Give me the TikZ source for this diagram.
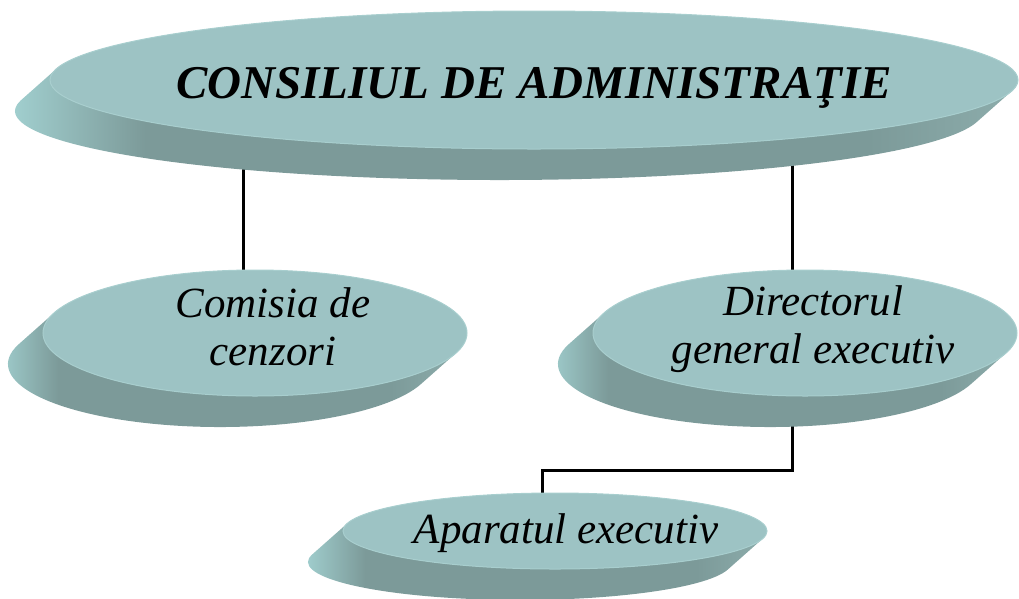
\documentclass[tikz,border=0pt]{standalone}
\usepackage{fontspec}
\setmainfont{Liberation Serif}
\usepackage{tikz}
\usetikzlibrary{shapes.geometric, backgrounds}
\definecolor{colorFace}{RGB}{157,195,196}
\definecolor{colorRim}{RGB}{168,206,206}
\definecolor{colorSideLight}{RGB}{170,220,220}
\definecolor{colorSideDark}{RGB}{124,154,153}
\definecolor{colorSideMid}{RGB}{140,172,171}
\pgfdeclarehorizontalshading{discsideshade}{100bp}{color(0bp)=(colorSideLight); color(25bp)=(colorSideLight); color(33bp)=(colorSideDark); color(68bp)=(colorSideDark); color(75bp)=(colorSideMid); color(100bp)=(colorSideMid)}
\tikzset{
  discface/.style={ellipse, fill=colorFace, draw=colorRim, line width=1pt, inner sep=0pt},
  discside/.style={shade, shading=discsideshade},
  link/.style={line width=3pt, black},
  disctext/.style={font=\fontsize{43}{48}\selectfont\itshape, align=center, anchor=base},
}
% disc: name, x, y, x radius, y radius, angle where the side starts
\newcommand{\disc}[6]{%
  \path[discside] (#2,#3) ++(#6:#4 and #5) -- ++(-35,-31)
    arc[start angle=#6, end angle=#6+180, x radius=#4, y radius=#5] -- ++(35,31)
    arc[start angle=#6+180, end angle=#6, x radius=#4, y radius=#5] -- cycle;
  \node[discface, minimum width=2*#4pt, minimum height=2*#5pt] (#1) at (#2,#3) {};
}

\begin{document}
\begin{tikzpicture}[x=1pt, y=1pt]
\useasboundingbox (0,0) rectangle (1019,-598);
\disc{cda}{534}{-80}{484}{69}{171.3}
\disc{cenz}{255}{-333}{212}{63}{162}
\disc{dir}{805}{-333}{212}{63}{162}
\disc{apar}{555}{-531}{212}{38}{168.9}
\node[disctext, font=\fontsize{47}{50}\selectfont\bfseries\itshape] (cdaText) at (534,-98) {CONSILIUL DE ADMINISTRAŢIE};
\node[disctext] (cenzText) at (273,-365) {Comisia de\\cenzori};
\node[disctext] (dirText) at (813,-363) {Directorul\\general executiv};
\node[disctext] (aparText) at (566,-543) {Aparatul executiv};
\begin{pgfonlayer}{background}
\draw[link] ([xshift=-12pt]cenz.center) -- ([xshift=-12pt]cenz.center |- cda.center);
\draw[link] ([xshift=-13pt]dir.center) -- ([xshift=-13pt]dir.center |- cda.center);
\draw[link] ([xshift=-13pt]dir.center) -- ++(0,-137) -| ([xshift=-13pt]apar.center);
\end{pgfonlayer}
\end{tikzpicture}
\end{document}
